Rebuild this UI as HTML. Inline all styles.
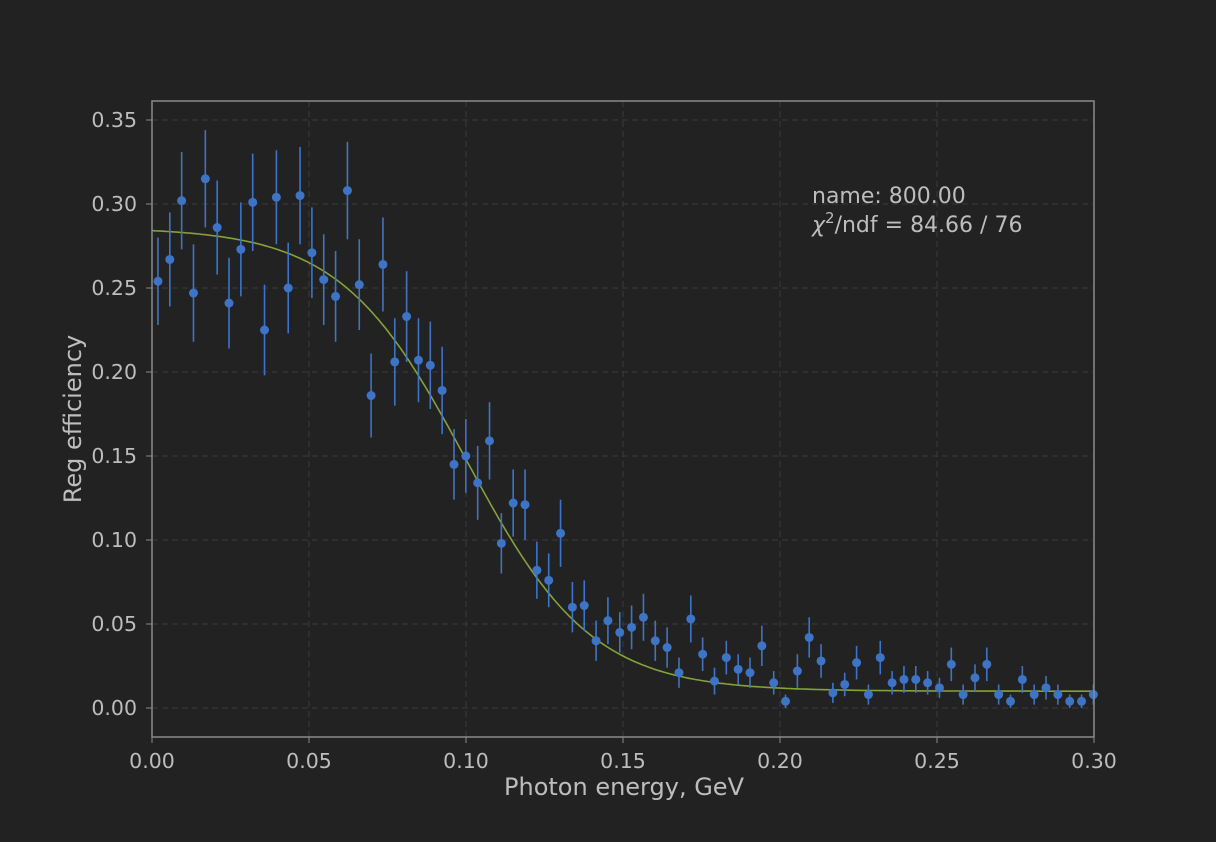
<!DOCTYPE html>
<html><head><meta charset="utf-8"><style>
html,body{margin:0;padding:0;background:#222222;}
svg{display:block;font-family:"DejaVu Sans","Liberation Sans",sans-serif;}
</style></head><body>
<svg id="chart" width="1216" height="842" xmlns="http://www.w3.org/2000/svg">
<rect width="1216" height="842" fill="#222222"/>
<g id="grid"></g>
<g id="fit"></g>
<g id="pts"></g>
<rect x="152" y="101" width="942" height="636" fill="none" stroke="#8a8a8a" stroke-width="1.5"/>
<g id="ticks"></g>
<text x="624" y="795" fill="#bdbdbd" font-size="24" text-anchor="middle">Photon energy, GeV</text>
<text transform="translate(81,419) rotate(-90)" fill="#bdbdbd" font-size="24" text-anchor="middle">Reg efficiency</text>
<text x="812" y="203" fill="#bdbdbd" font-size="22">name: 800.00</text>
<text x="812" y="232" fill="#bdbdbd" font-size="22"><tspan font-style="italic">χ</tspan><tspan dy="-9" font-size="15">2</tspan><tspan dy="9">/ndf = 84.66 / 76</tspan></text>
</svg>
<script>
const yValues=[0.254,0.267,0.302,0.247,0.315,0.286,0.241,0.273,0.301,0.225,0.304,0.250,0.305,0.271,0.255,0.245,0.308,0.252,0.186,0.264,0.206,0.233,0.207,0.204,0.189,0.145,0.150,0.134,0.159,0.098,0.122,0.121,0.082,0.076,0.104,0.060,0.061,0.040,0.052,0.045,0.048,0.054,0.040,0.036,0.021,0.053,0.032,0.016,0.030,0.023,0.021,0.037,0.015,0.004,0.022,0.042,0.028,0.009,0.014,0.027,0.008,0.030,0.015,0.017,0.017,0.015,0.012,0.026,0.008,0.018,0.026,0.008,0.004,0.017,0.008,0.012,0.008,0.004,0.004,0.008];
const yErrors=[0.026,0.028,0.029,0.029,0.029,0.028,0.027,0.028,0.029,0.027,0.028,0.027,0.029,0.027,0.027,0.027,0.029,0.027,0.025,0.028,0.026,0.027,0.025,0.026,0.026,0.021,0.022,0.022,0.023,0.018,0.020,0.021,0.017,0.016,0.020,0.015,0.015,0.012,0.014,0.012,0.013,0.014,0.012,0.012,0.009,0.014,0.010,0.008,0.010,0.009,0.009,0.012,0.007,0.004,0.010,0.012,0.010,0.006,0.007,0.010,0.006,0.010,0.007,0.008,0.008,0.007,0.006,0.010,0.006,0.008,0.010,0.006,0.004,0.008,0.006,0.007,0.006,0.004,0.004,0.006];
const binStart=0.0019, binStep=0.003771;
const fitParams=[0.010,0.276,0.100,0.020];
const xTicks=[0,0.05,0.10,0.15,0.20,0.25,0.30];
const yTicks=[0,0.05,0.10,0.15,0.20,0.25,0.30,0.35];
const NS="http://www.w3.org/2000/svg";
const X=v=>152+v/0.30*942;
const Y=v=>708-v/0.05*84;
function mk(tag,attrs,parent){const e=document.createElementNS(NS,tag);for(const k in attrs)e.setAttribute(k,attrs[k]);parent.appendChild(e);return e;}
const grid=document.getElementById('grid'),ticks=document.getElementById('ticks');
xTicks.forEach(t=>{
 const l=mk('line',{x1:X(t),x2:X(t),y1:101,y2:737,stroke:'#3a3a3a','stroke-dasharray':'6,4'},grid);
 
 
 const tk=mk('line',{x1:X(t),x2:X(t),y1:737,y2:743,stroke:'#8a8a8a'},ticks);
 
 
 const tx=mk('text',{x:X(t),y:768,fill:'#bdbdbd','font-size':20.5,'text-anchor':'middle'},ticks);
 tx.textContent=t.toFixed(2);
 
 
});
yTicks.forEach(t=>{
 const l=mk('line',{x1:152,x2:1094,y1:Y(t),y2:Y(t),stroke:'#3a3a3a','stroke-dasharray':'6,4'},grid);
 
 
 const tk=mk('line',{x1:146,x2:152,y1:Y(t),y2:Y(t),stroke:'#8a8a8a'},ticks);
 
 
 const tx=mk('text',{x:137,y:Y(t)+7,fill:'#bdbdbd','font-size':20.5,'text-anchor':'end'},ticks);
 tx.textContent=t.toFixed(2);
 
 
});
const fit=document.getElementById('fit');
let d='';
for(let i=0;i<=300;i++){const x=i*0.001;const y=fitParams[0]+fitParams[1]/(1+Math.exp((x-fitParams[2])/fitParams[3]));d+=(i?'L':'M')+X(x).toFixed(1)+','+Y(y).toFixed(1);}
const fp=mk('path',{d:d,fill:'none',stroke:'#84a13a','stroke-width':1.6},fit);


const pts=document.getElementById('pts');
yValues.forEach((v,i)=>{
 const x=binStart+i*binStep,e=yErrors[i];
 const eb=mk('line',{x1:X(x),x2:X(x),y1:Y(v+e),y2:Y(Math.max(v-e,-0.01)),stroke:'#3d74c6','stroke-width':1.6},pts);
 
 
 const c=mk('circle',{cx:X(x),cy:Y(v),r:4.5,fill:'#3d74c6'},pts);
 
 
});
</script>
</body></html>
